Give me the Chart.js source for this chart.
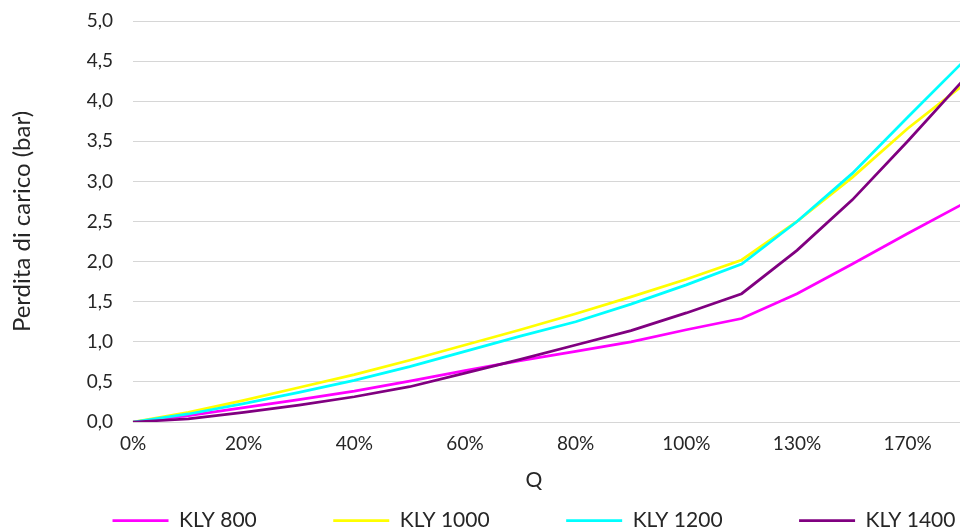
<!DOCTYPE html>
<html>
<head>
<meta charset="utf-8">
<script src="https://cdn.jsdelivr.net/npm/chart.js@4"></script>
<style>
html,body{margin:0;padding:0;overflow:hidden;background:#ffffff;}
#wrap{width:1068px;height:541px;position:relative;}
</style>
</head>
<body>
<div id="wrap"><canvas id="c"></canvas></div>
<script>
// Categories (Q, % of nominal flow)
const categories = ['0%','10%','20%','30%','40%','50%','60%','70%','80%','90%','100%','115%','130%','150%','170%','190%'];

// Series values (pressure loss, bar)
const kly800  = [0, 0.08, 0.18, 0.28, 0.385, 0.51, 0.64, 0.765, 0.88, 1.00, 1.15, 1.29, 1.60, 1.97, 2.35, 2.72];
const kly1000 = [0, 0.12, 0.27, 0.43, 0.59, 0.77, 0.96, 1.15, 1.35, 1.56, 1.78, 2.02, 2.50, 3.05, 3.66, 4.20];
const kly1200 = [0, 0.10, 0.23, 0.37, 0.52, 0.69, 0.88, 1.07, 1.25, 1.47, 1.71, 1.97, 2.50, 3.10, 3.80, 4.49];
const kly1400 = [0, 0.04, 0.12, 0.21, 0.315, 0.44, 0.61, 0.78, 0.96, 1.14, 1.36, 1.60, 2.14, 2.77, 3.50, 4.26];

const seriesNames = ['KLY 800', 'KLY 1000', 'KLY 1200', 'KLY 1400'];
const seriesColors = ['#FF00FF', '#FFFF00', '#00FFFF', '#800080'];
const seriesValues = [kly800, kly1000, kly1200, kly1400];

const yAxisTitle = 'Perdita di carico (bar)';
const xAxisTitle = 'Q';

Chart.defaults.font.family = 'Lato, "Open Sans", sans-serif';
const textColor = '#262626';

const datasets = seriesNames.map((name, i) => ({
  label: name,
  data: seriesValues[i],
  borderColor: seriesColors[i],
  backgroundColor: seriesColors[i],
  borderWidth: 2.75,
  pointRadius: 0,
  pointHoverRadius: 0,
  tension: 0,
  fill: false,
  order: seriesNames.length - i
}));

new Chart(document.getElementById('c'), {
  type: 'line',
  data: { labels: categories, datasets },
  options: {
    responsive: true,
    maintainAspectRatio: false,
    animation: false,
    layout: { padding: { top: 21, left: 0, right: 0, bottom: 0 } },
    plugins: {
      tooltip: { enabled: false },
      title: {
        display: true,
        text: xAxisTitle,
        position: 'bottom',
        weight: 500,
        color: textColor,
        font: { size: 21, weight: 'normal' },
        padding: { top: 33.9, bottom: -59.1 }
      },
      legend: {
        position: 'bottom',
        align: 'center',
        labels: {
          usePointStyle: true,
          pointStyle: 'line',
          pointStyleWidth: 56,
          padding: 76.5,
          color: textColor,
          font: { size: 21 },
          sort: (a, b) => a.datasetIndex - b.datasetIndex
        }
      }
    },
    scales: {
      x: {
        type: 'category',
        offset: false,
        grid: { display: false, drawTicks: false },
        border: { display: false },
        ticks: {
          autoSkip: false,
          maxRotation: 0,
          mirror: true,
          padding: -32.8,
          color: textColor,
          font: { size: 19 },
          callback: function (v, i) { return i % 2 === 0 ? this.getLabelForValue(v) : ''; }
        },
        afterFit: s => { s.height = 11.5; }
      },
      y: {
        min: 0,
        max: 5,
        grid: { color: '#D6D6D6', lineWidth: 1, drawTicks: true, tickLength: 20, tickColor: 'rgba(0,0,0,0)' },
        border: { display: false },
        ticks: {
          stepSize: 0.5,
          padding: 0,
          color: textColor,
          font: { size: 19 },
          callback: v => v.toFixed(1).replace('.', ',')
        },
        title: {
          display: true,
          text: yAxisTitle,
          color: textColor,
          font: { size: 24 },
          padding: { top: 7.6, bottom: 0 }
        },
        afterFit: s => { s.width = 133; }
      },
      y2: {
        position: 'right',
        display: true,
        grid: { display: false, drawTicks: false },
        border: { display: false },
        ticks: { display: false },
        afterFit: s => { s.width = 105; }
      }
    }
  }
});
</script>
</body>
</html>
